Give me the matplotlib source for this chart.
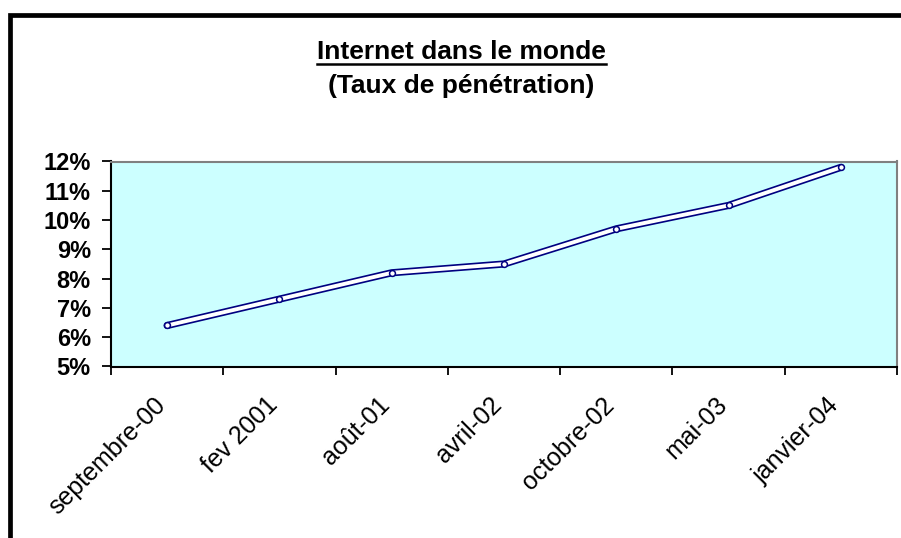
import matplotlib
matplotlib.use("Agg")
import matplotlib.pyplot as plt
import matplotlib.transforms as mtransforms
from matplotlib.lines import Line2D
from matplotlib.ticker import FixedLocator, FuncFormatter

# Données
periodes = ["septembre-00", "fev 2001", "août-01", "avril-02",
            "octobre-02", "mai-03", "janvier-04"]
taux = [6.4, 7.3, 8.2, 8.5, 9.7, 10.5, 11.8]   # en %

titre = "Internet dans le monde"
sous_titre = "(Taux de pénétration)"

plt.rcParams["font.family"] = ["Liberation Sans", "DejaVu Sans"]

W, H = 901, 538
fig = plt.figure(figsize=(W / 100, H / 100), dpi=100)
fig.patch.set_facecolor("white")

# zone de tracé
ax = fig.add_axes([111 / W, 1 - 366.5 / H, 786 / W, 205 / H])
ax.set_facecolor("#CCFFFF")

x = list(range(len(periodes)))
# double trait (style Excel)
ax.plot(x, taux, color="#000080", lw=5.2, solid_capstyle="round",
        solid_joinstyle="round", zorder=3)
ax.plot(x, taux, color="white", lw=2.8, solid_capstyle="round",
        solid_joinstyle="round", zorder=4)
ax.plot(x, taux, ls="none", marker="o", ms=4.2, mfc="white",
        mec="#000080", mew=1.1, zorder=5)

ax.set_xlim(-0.5, len(periodes) - 0.5)
ax.set_ylim(5, 12)

# axe Y
ax.set_yticks(range(5, 13))
ax.yaxis.set_major_formatter(FuncFormatter(lambda v, p: f"{v:.0f}%"))
ax.tick_params(axis="y", direction="out", length=6.5, width=1.3,
               pad=8, labelsize=17, colors="black")
for lab in ax.get_yticklabels():
    lab.set_fontweight("bold")

# axe X : graduations entre les catégories, étiquettes au centre
ax.xaxis.set_major_locator(FixedLocator([i - 0.5 for i in range(len(periodes) + 1)]))
ax.xaxis.set_major_formatter(FuncFormatter(lambda v, p: ""))
ax.xaxis.set_minor_locator(FixedLocator(x))
ax.set_xticklabels(periodes, minor=True)
ax.tick_params(axis="x", which="major", direction="out", length=6,
               width=1.3, colors="black")
ax.tick_params(axis="x", which="minor", length=0, pad=19, labelsize=18)
decal = mtransforms.ScaledTranslation(-14 / 100, 0, fig.dpi_scale_trans)
for lab in ax.xaxis.get_minorticklabels():
    lab.set_rotation(45)
    lab.set_ha("right")
    lab.set_va("top")
    lab.set_rotation_mode("anchor")
    lab.set_transform(lab.get_transform() + decal)

for s in ["top", "right"]:
    ax.spines[s].set_color("#808080")
    ax.spines[s].set_linewidth(1.5)
for s in ["left", "bottom"]:
    ax.spines[s].set_color("black")
    ax.spines[s].set_linewidth(1.5)

# titre souligné
t1 = fig.text(461.5 / W, 1 - 59 / H, titre, ha="center", va="baseline",
              fontsize=19, fontweight="bold")
fig.text(461.5 / W, 1 - 93 / H, sous_titre, ha="center", va="baseline",
         fontsize=19, fontweight="bold")
fig.canvas.draw()
bb = t1.get_window_extent().transformed(fig.transFigure.inverted())
y_soul = 1 - 64 / H
fig.add_artist(Line2D([bb.x0, bb.x1], [y_soul, y_soul], color="black",
                      lw=1.8, transform=fig.transFigure))

# cadre du graphique
fig.add_artist(Line2D([10 / W, 10 / W, 1.02], [-0.02, 1 - 15 / H, 1 - 15 / H],
                      color="black", lw=3.4, transform=fig.transFigure,
                      solid_joinstyle="miter"))

fig.savefig("out.png", dpi=100)
